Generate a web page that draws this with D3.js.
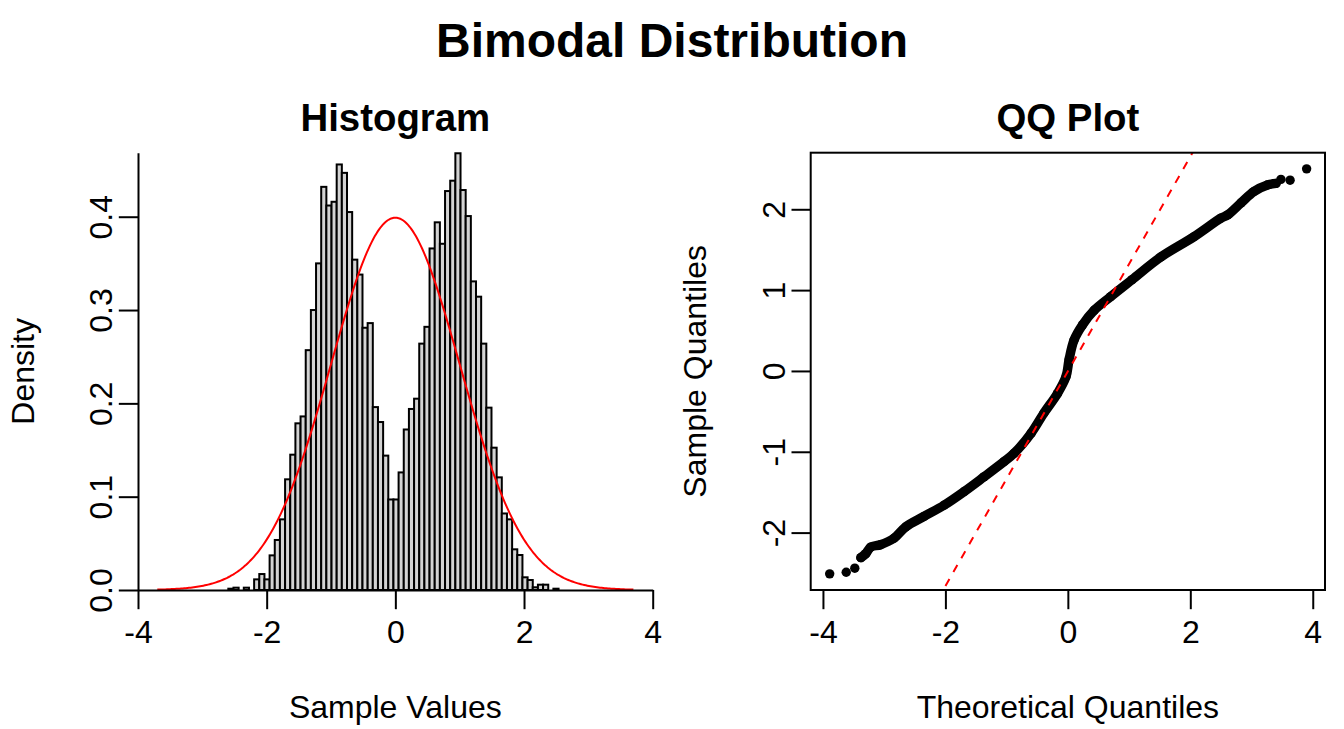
<!DOCTYPE html>
<html><head><meta charset="utf-8">
<script src="https://cdn.jsdelivr.net/npm/d3@7"></script>
<style>
body{margin:0;background:#fff}
svg{display:block}
text{font-family:"Liberation Sans",Arial,Helvetica,sans-serif;fill:#000}
</style>
</head><body>
<svg id="c" width="1344" height="729"></svg>
<script>
// ---------- data ----------
const mainTitle = "Bimodal Distribution";
const histTitle = "Histogram";
const qqTitle = "QQ Plot";
const histXLabel = "Sample Values";
const histYLabel = "Density";
const qqXLabel = "Theoretical Quantiles";
const qqYLabel = "Sample Quantiles";

const binStart = -2.596;
const binWidth = 0.0802;
const binDensity = [
  0.0014, 0.0025, 0, 0.0025, 0, 0.0114, 0.0171, 0.0114,
  0.0371, 0.0536, 0.0757, 0.1186, 0.145, 0.1786, 0.186, 0.257,
  0.300, 0.350, 0.432, 0.412, 0.416, 0.456, 0.447, 0.405,
  0.354, 0.338, 0.281, 0.286, 0.196, 0.180, 0.144, 0.097,
  0.097, 0.126, 0.172, 0.194, 0.205, 0.264, 0.282, 0.366,
  0.394, 0.371, 0.4275, 0.4386, 0.468, 0.4286, 0.4007, 0.3307,
  0.3143, 0.264, 0.1954, 0.1525, 0.1207, 0.082, 0.0757, 0.0436,
  0.0375, 0.0136, 0.0107, 0.0029, 0.0057, 0.0057, 0, 0.0014
];
const histXTicks = [-4, -2, 0, 2, 4];
const histYTicks = [0, 0.1, 0.2, 0.3, 0.4];
const histYTickLabels = ["0.0", "0.1", "0.2", "0.3", "0.4"];

// overlaid normal density N(0,1)
const normMean = 0, normSd = 1, normFrom = -3.7, normTo = 3.7;

// QQ plot: isolated tail points and the dense band (theoretical, sample)
const qqLowTailT = [-3.89, -3.62, -3.48];
const qqLowTailS = [-2.51, -2.49, -2.44];
const qqBandT = [-3.38, -3.30, -3.22, -3.06, -2.84, -2.65, -2.35, -2.02, -1.69, -1.37,
                 -1.04, -0.88, -0.60, -0.39, -0.17, -0.03, 0.02, 0.10, 0.24, 0.43,
                 0.70, 1.05, 1.52, 2.06, 2.50, 2.61, 2.83, 3.04, 3.26, 3.40];
const qqBandS = [-2.31, -2.26, -2.18, -2.15, -2.07, -1.93, -1.80, -1.66, -1.49, -1.31,
                 -1.12, -1.02, -0.77, -0.52, -0.28, -0.07, 0.14, 0.38, 0.57, 0.75,
                 0.92, 1.13, 1.41, 1.66, 1.89, 1.93, 2.08, 2.22, 2.30, 2.32];
const qqHighTailT = [3.48, 3.63, 3.90];
const qqHighTailS = [2.37, 2.36, 2.50];
const qqLineIntercept = -0.005, qqLineSlope = 1.328;
const qqXTicks = [-4, -2, 0, 2, 4];
const qqYTicks = [-2, -1, 0, 1, 2];

// ---------- layout ----------
const svg = d3.select("#c");
const plotTop = 152.7, plotBottom = 590;
const p1 = {l: 138, r: 652.7};
const p2 = {l: 810.7, r: 1325};
const tickLen = 19.2;
const fs = 32;
const yLabelOffset = -26;

const hx = d3.scaleLinear().domain([-4, 4]).range([p1.l, p1.r]);
const hy = d3.scaleLinear().domain([0, 0.4686]).range([plotBottom, plotTop]);
const qx = d3.scaleLinear().domain([-4.2, 4.2]).range([p2.l, p2.r]);
const qy = d3.scaleLinear().domain([-2.71, 2.70]).range([plotBottom, plotTop]);

// titles
svg.append("text").attr("x", 672).attr("y", 57).attr("text-anchor", "middle")
  .style("font-size", "48px").style("font-weight", "bold").text(mainTitle);
svg.append("text").attr("x", (p1.l + p1.r) / 2).attr("y", 131).attr("text-anchor", "middle")
  .style("font-size", "38.4px").style("font-weight", "bold").text(histTitle);
svg.append("text").attr("x", (p2.l + p2.r) / 2).attr("y", 131).attr("text-anchor", "middle")
  .style("font-size", "38.4px").style("font-weight", "bold").text(qqTitle);

// ---------- histogram ----------
const bins = binDensity.map((d, i) => ({x0: binStart + i * binWidth, x1: binStart + (i + 1) * binWidth, d}));
svg.append("g").selectAll("rect").data(bins).join("rect")
  .attr("x", b => hx(b.x0)).attr("width", b => hx(b.x1) - hx(b.x0))
  .attr("y", b => hy(b.d)).attr("height", b => hy(0) - hy(b.d))
  .attr("fill", "#d3d3d3").attr("stroke", "#000").attr("stroke-width", 2);

const normPdf = x => Math.exp(-0.5 * ((x - normMean) / normSd) ** 2) / (normSd * Math.sqrt(2 * Math.PI));
const curveX = d3.range(0, 301).map(i => normFrom + (normTo - normFrom) * i / 300);
svg.append("path").datum(curveX)
  .attr("d", d3.line().x(x => hx(x)).y(x => hy(normPdf(x))))
  .attr("fill", "none").attr("stroke", "#ff0000").attr("stroke-width", 2);

function styleAxis(g) {
  g.selectAll("path.domain").attr("stroke", "#000").attr("stroke-width", 2);
  g.selectAll(".tick line").attr("stroke", "#000").attr("stroke-width", 2);
  g.selectAll("text").style("font-size", fs + "px").attr("fill", "#000")
    .style("font-family", '"Liberation Sans",Arial,Helvetica,sans-serif');
}
function rotateLeftLabels(g) {
  g.selectAll(".tick text").attr("transform", "rotate(-90)")
    .attr("x", 0).attr("y", yLabelOffset).attr("dy", null).attr("text-anchor", "middle");
}

const hxAxis = svg.append("g").attr("transform", `translate(0,${plotBottom})`)
  .call(d3.axisBottom(hx).tickValues(histXTicks).tickFormat(d => String(d))
        .tickSize(tickLen).tickSizeOuter(0).tickPadding(11));
styleAxis(hxAxis);

const hyAxis = svg.append("g").attr("transform", `translate(${p1.l},0)`)
  .call(d3.axisLeft(hy).tickValues(histYTicks).tickFormat((d, i) => histYTickLabels[i])
        .tickSize(tickLen).tickSizeOuter(0));
styleAxis(hyAxis);
rotateLeftLabels(hyAxis);

svg.append("text").attr("x", (p1.l + p1.r) / 2).attr("y", 718).attr("text-anchor", "middle")
  .style("font-size", fs + "px").text(histXLabel);
svg.append("text").attr("transform", `translate(34,${(plotTop + plotBottom) / 2}) rotate(-90)`)
  .attr("text-anchor", "middle").style("font-size", fs + "px").text(histYLabel);

// ---------- QQ plot ----------
svg.append("defs").append("clipPath").attr("id", "qqclip")
  .append("rect").attr("x", p2.l).attr("y", plotTop).attr("width", p2.r - p2.l).attr("height", plotBottom - plotTop);

const band = qqBandT.map((t, i) => [t, qqBandS[i]]);
const tails = qqLowTailT.map((t, i) => [t, qqLowTailS[i]])
  .concat(qqHighTailT.map((t, i) => [t, qqHighTailS[i]]));
const ptR = 4.7;
svg.append("path").datum(band)
  .attr("d", d3.line().x(p => qx(p[0])).y(p => qy(p[1])).curve(d3.curveCatmullRom))
  .attr("fill", "none").attr("stroke", "#000").attr("stroke-width", ptR * 2)
  .attr("stroke-linecap", "round").attr("stroke-linejoin", "round");
svg.append("g").selectAll("circle").data(band.concat(tails)).join("circle")
  .attr("cx", p => qx(p[0])).attr("cy", p => qy(p[1])).attr("r", ptR).attr("fill", "#000");

const lx = qx.domain();
svg.append("line").attr("clip-path", "url(#qqclip)")
  .attr("x1", qx(lx[0])).attr("y1", qy(qqLineIntercept + qqLineSlope * lx[0]))
  .attr("x2", qx(lx[1])).attr("y2", qy(qqLineIntercept + qqLineSlope * lx[1]))
  .attr("stroke", "#ff0000").attr("stroke-width", 2).attr("stroke-dasharray", "8,8");

svg.append("rect").attr("x", p2.l).attr("y", plotTop).attr("width", p2.r - p2.l).attr("height", plotBottom - plotTop)
  .attr("fill", "none").attr("stroke", "#000").attr("stroke-width", 2);

const qxAxis = svg.append("g").attr("transform", `translate(0,${plotBottom})`)
  .call(d3.axisBottom(qx).tickValues(qqXTicks).tickFormat(d => String(d))
        .tickSize(tickLen).tickSizeOuter(0).tickPadding(11));
qxAxis.select("path.domain").remove();
styleAxis(qxAxis);

const qyAxis = svg.append("g").attr("transform", `translate(${p2.l},0)`)
  .call(d3.axisLeft(qy).tickValues(qqYTicks).tickFormat(d => String(d))
        .tickSize(tickLen).tickSizeOuter(0));
qyAxis.select("path.domain").remove();
styleAxis(qyAxis);
rotateLeftLabels(qyAxis);

svg.append("text").attr("x", (p2.l + p2.r) / 2).attr("y", 718).attr("text-anchor", "middle")
  .style("font-size", fs + "px").text(qqXLabel);
svg.append("text").attr("transform", `translate(706,${(plotTop + plotBottom) / 2}) rotate(-90)`)
  .attr("text-anchor", "middle").style("font-size", fs + "px").text(qqYLabel);
</script>
</body></html>
